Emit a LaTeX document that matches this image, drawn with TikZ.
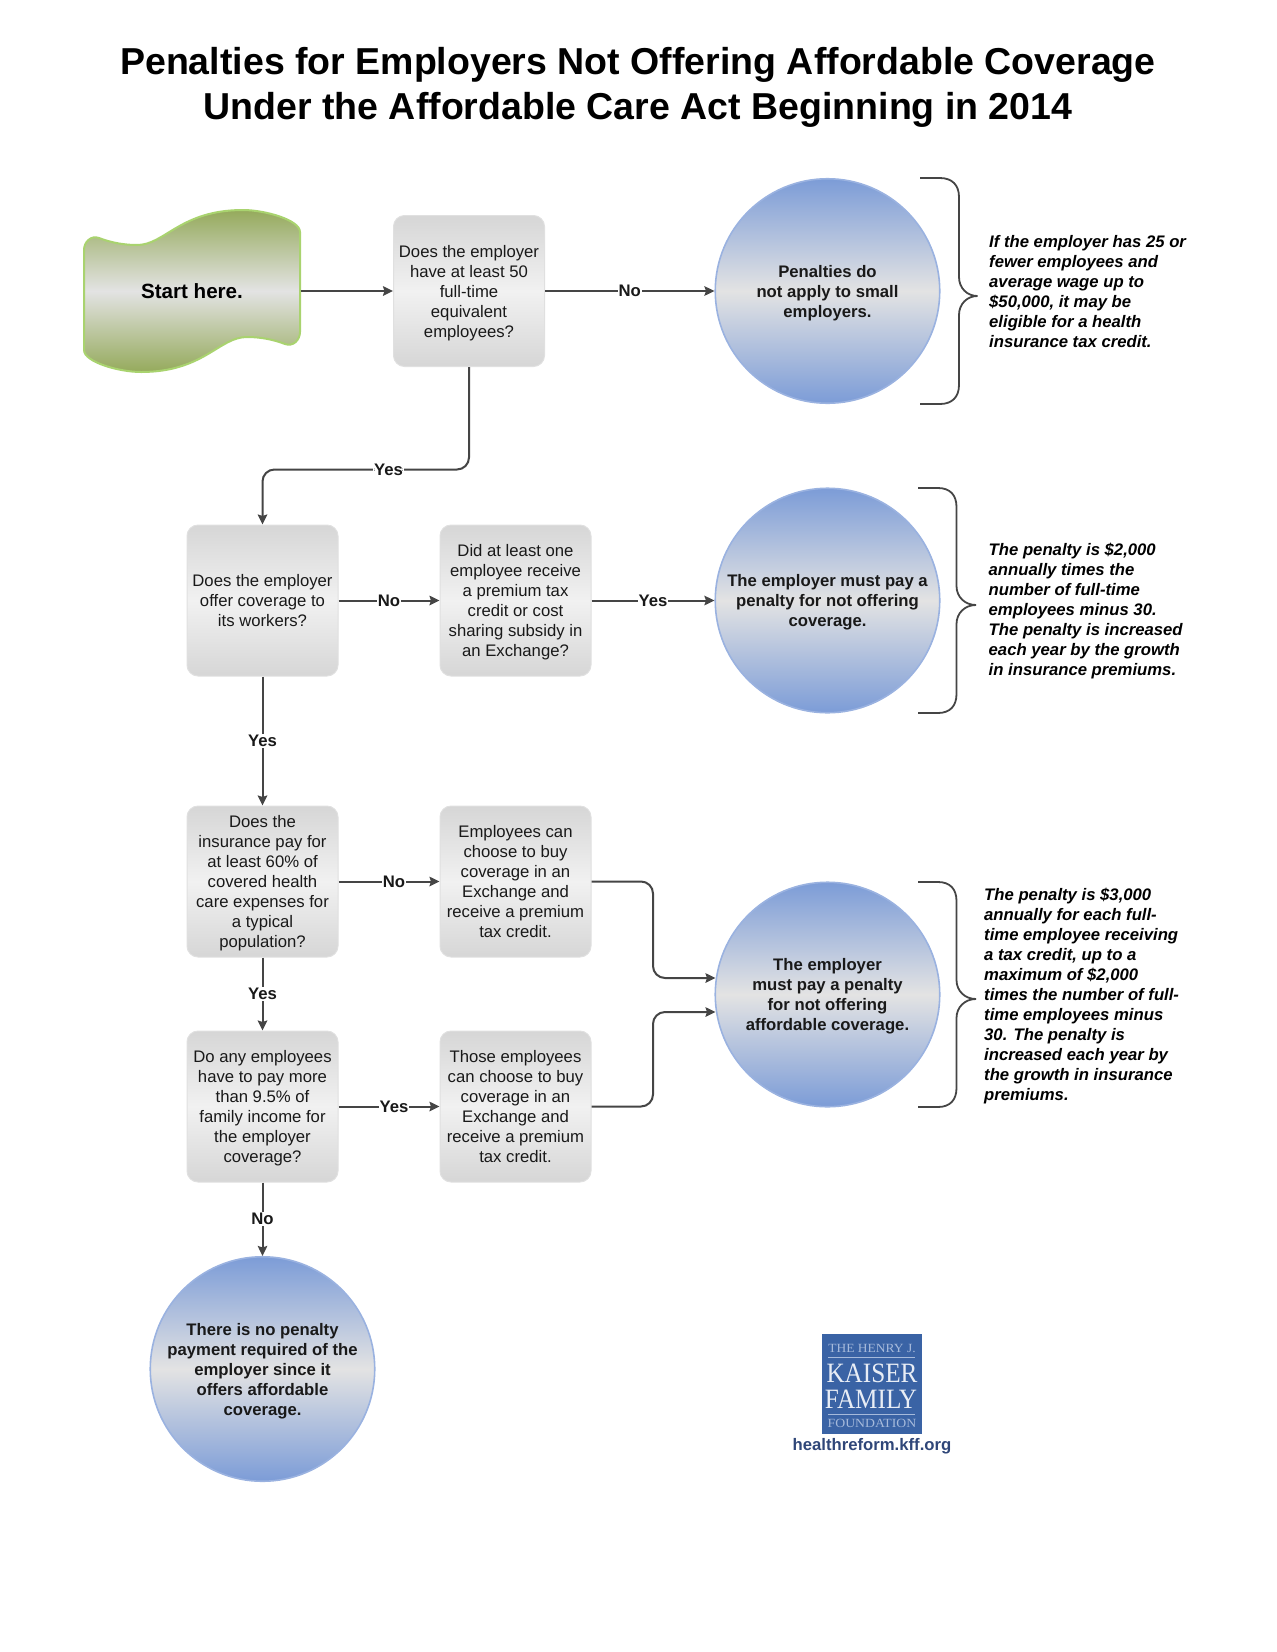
\documentclass[tikz,border=0pt]{standalone}
\usepackage{fontspec}
\setmainfont{Liberation Sans}
\newfontfamily\logofont{Liberation Serif}
\usetikzlibrary{arrows.meta}
\definecolor{linegray}{HTML}{454545}
\definecolor{boxedge}{HTML}{D6D6D6}
\definecolor{boxline}{HTML}{E0E0E0}
\definecolor{boxmid}{HTML}{F1F1F1}
\definecolor{bluedge}{HTML}{7C9CD7}
\definecolor{blueline}{HTML}{9AB2E0}
\definecolor{midgray}{HTML}{E3E3E3}
\definecolor{greenedge}{HTML}{95AA5C}
\definecolor{greenline}{HTML}{A9D36F}
\definecolor{logoblue}{HTML}{3A63A5}
\definecolor{logotext}{HTML}{E8EDF5}
\definecolor{logosmall}{HTML}{A6BADB}
\definecolor{urlblue}{HTML}{2F4678}
\tikzset{
	x=1pt,y=-1pt,
	body/.style={font=\fontsize{16.7}{20}\selectfont,align=center,text=black!90,text depth=0pt},
	question/.style={body,rectangle,rounded corners=11pt,minimum width=151pt,minimum height=151pt,inner sep=0pt,draw=boxline,line width=1pt,top color=boxedge,bottom color=boxedge,middle color=boxmid},
	outcome/.style={body,font=\bfseries\fontsize{16.7}{20}\selectfont,circle,minimum size=224.5pt,inner sep=0pt,draw=blueline,line width=1.6pt,top color=bluedge,bottom color=bluedge,middle color=midgray},
	note/.style={font=\bfseries\itshape\fontsize{16.7}{20}\selectfont,align=left,anchor=north west,inner sep=0pt},
	flow/.style={-{Stealth[length=10pt,width=9.5pt,inset=1.5pt]},line width=2pt,draw=linegray},
	brace/.style={line width=1.8pt,draw=linegray},
	edgelabel/.style={font=\bfseries\fontsize{16.7}{20}\selectfont,fill=white,inner xsep=1pt,inner ysep=1pt,text=black!90}
}
\begin{document}
\begin{tikzpicture}
	\useasboundingbox (0,0) rectangle (1277,1652);
	
	%title
	\node[font=\bfseries\fontsize{37.5}{45.5}\selectfont,align=center,inner sep=0pt] (title) at (638,87.5) {Penalties for Employers Not Offering Affordable Coverage\\Under the Affordable Care Act Beginning in 2014};
	
	%start shape
	\path[draw=greenline,line width=2pt,top color=greenedge,bottom color=greenedge,middle color=midgray]
		(84,250) .. controls (84,242) and (91,235) .. (99,238)
		.. controls (112,243) and (125,245) .. (137,245)
		.. controls (165,245) and (180,210) .. (243,210)
		.. controls (265,210) and (300,220) .. (300,232)
		-- (300,332) .. controls (300,340) and (293,347) .. (285,344)
		.. controls (272,339) and (259,337) .. (247,337)
		.. controls (219,337) and (204,372) .. (141,372)
		.. controls (119,372) and (84,362) .. (84,350) -- cycle;
	\node[font=\bfseries\fontsize{20.6}{24}\selectfont,minimum width=217pt,inner sep=0pt] (start) at (192,291) {Start here.};
	
	%questions
	\node[question] (employees) at (469,291) {Does the employer\\have at least 50\\full-time\\equivalent\\employees?};
	\node[question] (offer) at (262.5,600.5) {Does the employer\\offer coverage to\\its workers?};
	\node[question] (subsidy) at (515.5,600.5) {Did at least one\\employee receive\\a premium tax\\credit or cost\\sharing subsidy in\\an Exchange?};
	\node[question] (sixty) at (262.5,881.5) {Does the\\insurance pay for\\at least 60\% of\\covered health\\care expenses for\\a typical\\population?};
	\node[question] (choosea) at (515.5,881.5) {Employees can\\choose to buy\\coverage in an\\Exchange and\\receive a premium\\tax credit.};
	\node[question] (income) at (262.5,1106.5) {Do any employees\\have to pay more\\than 9.5\% of\\family income for\\the employer\\coverage?};
	\node[question] (chooseb) at (515.5,1106.5) {Those employees\\can choose to buy\\coverage in an\\Exchange and\\receive a premium\\tax credit.};
	
	%circles
	\node[outcome] (small) at (827.5,291) {Penalties do\\not apply to small\\employers.};
	\node[outcome] (pay) at (827.5,600.5) {The employer must pay a\\penalty for not offering\\coverage.};
	\node[outcome] (afford) at (827.5,994.5) {The employer\\must pay a penalty\\for not offering\\affordable coverage.};
	\node[outcome] (none) at (262.5,1369) {There is no penalty\\payment required of the\\employer since it\\offers affordable\\coverage.};
	
	%arrows
	\coordinate (turn) at (0,469.5);
	\coordinate (rail) at (653,0);
	\coordinate (ina) at (715.5,978);
	\coordinate (inb) at (715.5,1012);
	\draw[flow] (start)--(employees);
	\draw[flow] (employees)--node[edgelabel] (no1) {No} (small);
	\draw[flow,rounded corners=12pt] (employees.south)--(employees.south |- turn)--node[edgelabel,pos=.39] (yes1) {Yes} (offer.north |- turn)--(offer.north);
	\draw[flow] (offer)--node[edgelabel] (no2) {No} (subsidy);
	\draw[flow] (subsidy)--node[edgelabel] (yes2) {Yes} (pay);
	\draw[flow] (offer)--node[edgelabel] (yes3) {Yes} (sixty);
	\draw[flow] (sixty)--node[edgelabel,pos=.55] (no3) {No} (choosea);
	\draw[flow] (sixty)--node[edgelabel] (yes4) {Yes} (income);
	\draw[flow] (income)--node[edgelabel,pos=.55] (yes5) {Yes} (chooseb);
	\draw[flow] (income)--node[edgelabel] (no4) {No} (none);
	\draw[flow,rounded corners=12pt] (choosea)--(rail |- choosea)--(rail |- ina)--(ina);
	\draw[flow,rounded corners=12pt] (chooseb)--(rail |- chooseb)--(rail |- inb)--(inb);
	
	%braces
	\draw[brace] (920,178)--(940,178) .. controls (952,178) and (959,185) .. (959,197)--(959,277) .. controls (959,288) and (967,296) .. (977.5,296) .. controls (967,296) and (959,304) .. (959,315)--(959,385) .. controls (959,397) and (952,404) .. (940,404)--(920,404);
	\draw[brace] (918,488)--(938,488) .. controls (950,488) and (956.5,495) .. (956.5,507)--(956.5,586) .. controls (956.5,597) and (965,605) .. (976,605) .. controls (965,605) and (956.5,613) .. (956.5,624)--(956.5,694) .. controls (956.5,706) and (950,713) .. (938,713)--(918,713);
	\draw[brace] (918,882)--(938,882) .. controls (950,882) and (956.5,889) .. (956.5,901)--(956.5,980) .. controls (956.5,991) and (965,999) .. (976,999) .. controls (965,999) and (956.5,1007) .. (956.5,1018)--(956.5,1088) .. controls (956.5,1100) and (950,1107) .. (938,1107)--(918,1107);
	
	%side notes
	\node[note] (noteone) at (989,235) {If the employer has 25 or\\fewer employees and\\average wage up to\\\$50,000, it may be\\eligible for a health\\insurance tax credit.};
	\node[note] (notetwo) at (988.5,543) {The penalty is \$2,000\\annually times the\\number of full-time\\employees minus 30.\\The penalty is increased\\each year by the growth\\in insurance premiums.};
	\node[note] (notethree) at (984,888) {The penalty is \$3,000\\annually for each full-\\time employee receiving\\a tax credit, up to a\\maximum of \$2,000\\times the number of full-\\time employees minus\\30. The penalty is\\increased each year by\\the growth in insurance\\premiums.};
	
	%logo
	\node[fill=logoblue,minimum size=100pt,inner sep=0pt] (logo) at (872,1384) {};
	\node[font=\logofont\fontsize{12.5}{14}\selectfont,text=logosmall,inner sep=0pt] (henry) at (872,1348) {\scalebox{1.08}[1]{THE HENRY J.}};
	\node[font=\logofont\fontsize{28}{28}\selectfont,text=logotext,inner sep=0pt] (kaiser) at (872,1373) {\scalebox{.9}[1]{KAISER}};
	\node[font=\logofont\fontsize{28}{28}\selectfont,text=logotext,inner sep=0pt] (family) at (871,1399) {\scalebox{.9}[1]{FAMILY}};
	\node[font=\logofont\fontsize{12.5}{14}\selectfont,text=logosmall,inner sep=0pt] (foundation) at (872,1423) {\scalebox{1.1}[1]{FOUNDATION}};
	\draw[logosmall,line width=1pt] (828,1357)--(915,1357);
	\draw[logosmall,line width=1pt] (828,1414)--(915,1414);
	\node[font=\bfseries\fontsize{16.7}{20}\selectfont,text=urlblue,inner sep=0pt] (site) at (872,1446) {healthreform.kff.org};
\end{tikzpicture}
\end{document}
